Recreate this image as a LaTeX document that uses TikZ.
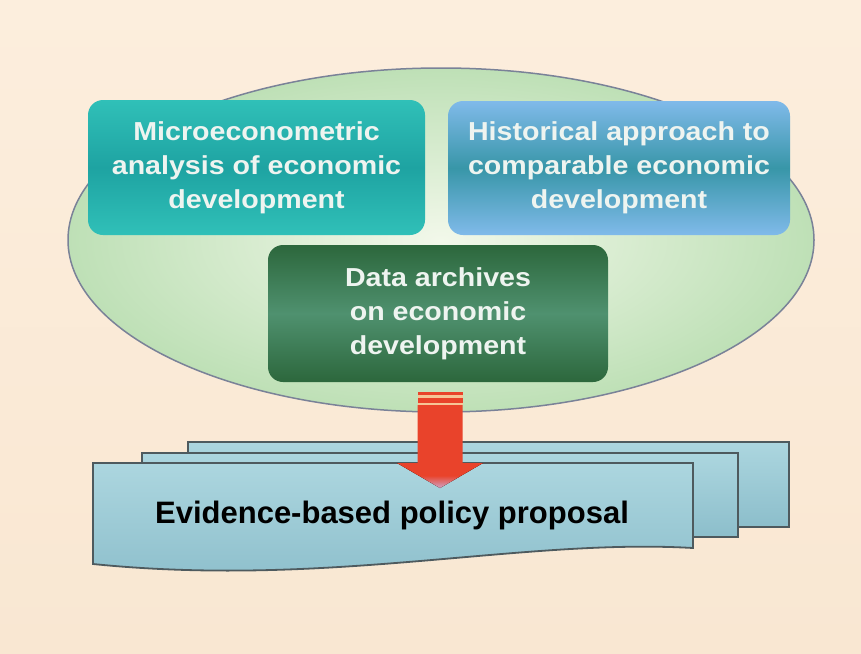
\documentclass[tikz,border=0pt]{standalone}
\usepackage{fontspec}
\setmainfont{Liberation Sans}
\newfontfamily\boxfont[FakeStretch=1.1]{Liberation Sans}
\usetikzlibrary{shapes.geometric,calc}
\definecolor{bgcream}{HTML}{FCEEDD}
\definecolor{bgcream2}{HTML}{F9E7D2}
\definecolor{ovalin}{HTML}{F2F8EA}
\definecolor{ovalout}{HTML}{BEE0B6}
\definecolor{ovaledge}{HTML}{7A8298}
\definecolor{tealA}{HTML}{30C0B8}
\definecolor{tealB}{HTML}{1EA3A2}
\definecolor{blueA}{HTML}{80BAEA}
\definecolor{blueB}{HTML}{3896A8}
\definecolor{greenA}{HTML}{2C673C}
\definecolor{greenB}{HTML}{4F916F}
\definecolor{txtlight}{HTML}{EEF4F0}
\definecolor{pageA}{HTML}{ACD6DF}
\definecolor{pageB}{HTML}{8CBECB}
\definecolor{pageedge}{HTML}{4E5A5E}
\definecolor{arrred}{HTML}{E9432B}
\definecolor{arrlight}{HTML}{F6C597}
\definecolor{arrtip}{HTML}{CFA2C6}
\tikzset{
  topbox/.style={rounded corners=15pt, inner sep=0pt, align=center,
    font=\boxfont\bfseries\fontsize{26}{34}\selectfont, text=txtlight},
  pagebox/.style={draw=pageedge, line width=1.8pt, top color=pageA, bottom color=pageB},
}
\begin{document}
\begin{tikzpicture}[x=1pt,y=-1pt]
\useasboundingbox (0,0) rectangle (861,653);
\fill[top color=bgcream, bottom color=bgcream2] (0,0) rectangle (861,653);
% oval
\node[ellipse, draw=ovaledge, line width=1.5pt, inner color=ovalin, outer color=ovalout,
  minimum width=746pt, minimum height=344pt, inner sep=0pt] (oval) at (441,240) {};
% boxes
\node[topbox, minimum width=337pt, minimum height=135pt,
  top color=tealA, bottom color=tealA, middle color=tealB] (micro) at (256.5,167.5)
  {Microeconometric\\analysis of economic\\development};
\node[topbox, minimum width=342pt, minimum height=134pt,
  top color=blueA, bottom color=blueA, middle color=blueB] (hist) at (619,168)
  {Historical approach to\\comparable economic\\development};
\node[topbox, minimum width=340pt, minimum height=137pt,
  top color=greenA, bottom color=greenA, middle color=greenB] (data) at (438,313.5)
  {Data archives\\on economic\\development};
% pages
\node[pagebox, minimum width=601pt, minimum height=85pt, inner sep=0pt] (back) at (488.5,484.5) {};
\node[pagebox, minimum width=596pt, minimum height=84pt, inner sep=0pt] (mid) at (440,495) {};
\coordinate (fTL) at (93,463);
\coordinate (fTR) at (693,463);
\coordinate (fBR) at (693,548);
\coordinate (fBL) at (93,564);
\draw[pagebox] (fTL) -- (fTR) -- (fBR) .. controls (520,538) and (330,588) .. (fBL) -- cycle;
% arrow
\coordinate (atop) at ($(data.south)+(2,10)$);
\coordinate (atip) at (440,488);
\fill[arrred] (atop) ++(-22.5,0) rectangle ++(45,3);
\fill[arrlight] ($(atop)+(-22.5,3)$) rectangle ++(45,3);
\fill[arrred] ($(atop)+(-22.5,6)$) rectangle ++(45,5);
\fill[arrlight] ($(atop)+(-22.5,11)$) rectangle ++(45,2);
\fill[arrred] ($(atop)+(-22.5,13)$) -- ($(atop)+(22.5,13)$) -- (462.5,463) -- (483,463)
  -- (atip) -- (397,463) -- (417.5,463) -- cycle;
\fill[top color=arrred, bottom color=arrtip, middle color=arrred]
  (397,463) -- (483,463) -- (atip) -- cycle;
% label
\node[font=\bfseries\fontsize{31}{36}\selectfont, text=black, inner sep=0pt] (ev) at (392,515)
  {Evidence-based policy proposal};
\end{tikzpicture}
\end{document}
